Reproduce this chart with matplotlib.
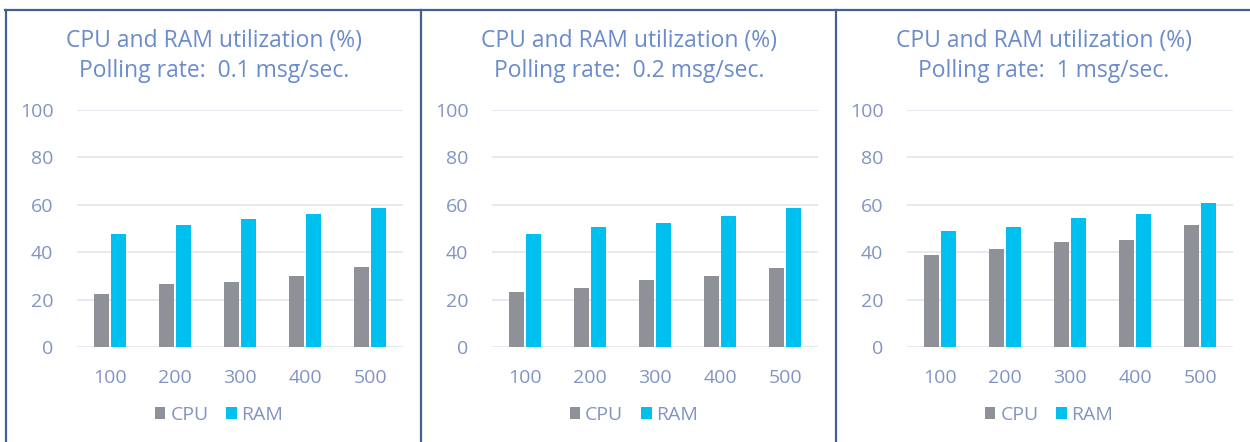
import matplotlib
matplotlib.use("Agg")
import matplotlib.pyplot as plt
import numpy as np
from matplotlib.lines import Line2D

# Data
categories = ["100", "200", "300", "400", "500"]
rates = ["0.1", "0.2", "1"]
cpu_values = [
	[22.5, 26.5, 27.3, 30.1, 33.8],
	[23.2, 24.9, 28.2, 30.0, 33.5],
	[38.7, 41.5, 44.3, 45.3, 51.4],
]
ram_values = [
	[47.7, 51.5, 53.8, 56.3, 58.7],
	[47.7, 50.7, 52.5, 55.2, 58.5],
	[49.0, 50.8, 54.5, 56.0, 60.6],
]
y_ticks = [0, 20, 40, 60, 80, 100]

cpu_color = "#8e9198"
ram_color = "#00c0f0"
title_color = "#6a8bcc"
tick_color = "#8294c4"
grid_color = "#e2e6ee"
border_color = "#44608f"

plt.rcParams["font.family"] = ["Open Sans", "DejaVu Sans"]

fig = plt.figure(figsize = (12.5, 4.42), dpi = 100)
fig.patch.set_facecolor("white")

panel_left = [6, 421, 836]
plot_left = [77, 492, 907]
plot_width = 326

x = np.arange(len(categories))
bar_w = 0.23

for i in range(3):

	ax = fig.add_axes([plot_left[i] / 1250.0, 1 - 347 / 442.0, plot_width / 1250.0, (347 - 110) / 442.0])

	ax.bar(x - 0.13, cpu_values[i], bar_w, color = cpu_color, label = "CPU", zorder = 3)
	ax.bar(x + 0.13, ram_values[i], bar_w, color = ram_color, label = "RAM", zorder = 3)

	ax.set_ylim(0, 100)
	ax.set_xlim(-0.5, len(categories) - 0.5)
	ax.set_yticks(y_ticks)
	ax.set_xticks(x)
	ax.set_xticklabels(categories)
	ax.grid(axis = "y", color = grid_color, linewidth = 1.2, zorder = 0)
	ax.tick_params(axis = "both", length = 0, labelsize = 14, colors = tick_color)
	ax.tick_params(axis = "y", pad = 17)
	ax.tick_params(axis = "x", pad = 16)
	for s in ax.spines.values():
		s.set_visible(False)
	#end_for

	cx = (panel_left[i] + 208) / 1250.0
	fig.text(cx, 1 - 41 / 442.0, "CPU and RAM utilization (%)", ha = "center", va = "center", fontsize = 16.5, color = title_color)
	fig.text(cx, 1 - 71 / 442.0, "Polling rate:  " + rates[i] + " msg/sec.", ha = "center", va = "center", fontsize = 16.5, color = title_color)

	fig.legend(handles = ax.patches[:1] + ax.patches[5:6], labels = ["CPU", "RAM"], loc = "center",
		bbox_to_anchor = (cx + 0.004, 1 - 415 / 442.0), ncol = 2, frameon = False, fontsize = 14,
		labelcolor = tick_color, handlelength = 0.55, handleheight = 0.55, handletextpad = 0.25, columnspacing = 0.9)
#end_for

# panel borders
fig.add_artist(Line2D([0.004, 1.0], [1 - 10 / 442.0, 1 - 10 / 442.0], color = border_color, linewidth = 1.6))
for xb in [6, 421, 836]:
	fig.add_artist(Line2D([xb / 1250.0, xb / 1250.0], [0, 1 - 10 / 442.0], color = border_color, linewidth = 1.6))
#end_for

fig.savefig("out.png", dpi = 100, facecolor = "white")
